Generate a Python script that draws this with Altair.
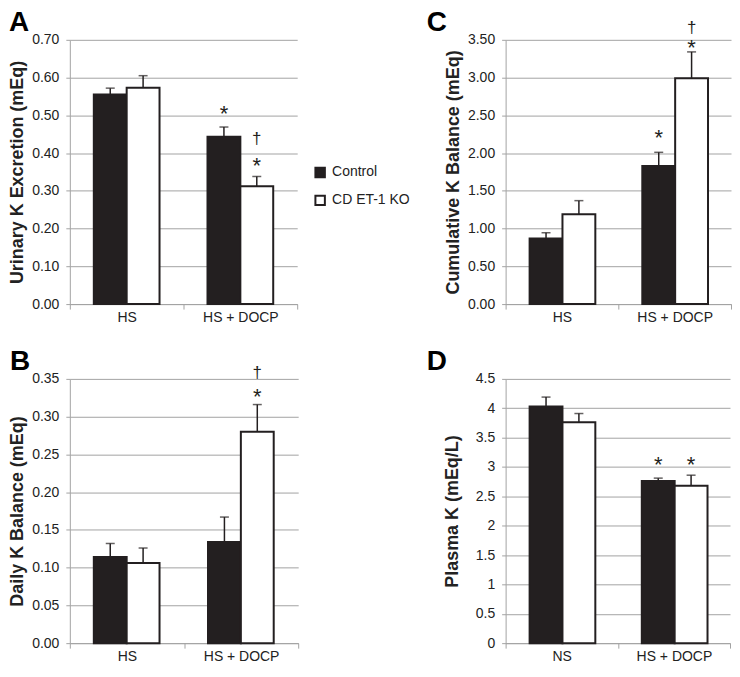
import altair as alt
import pandas as pd

FONT = "Liberation Sans"
INK = "#231f20"
GRID = "#a3a3a3"
TXT = "#222222"

groups = ["Control", "CD ET-1 KO"]

# Panel A: Urinary K excretion
a_cats = ["HS", "HS + DOCP"]
a_ctrl = [0.555, 0.443]
a_ko = [0.573, 0.312]
a_ctrl_err = [0.572, 0.469]
a_ko_err = [0.605, 0.338]
a_ticks = [0.0, 0.1, 0.2, 0.3, 0.4, 0.5, 0.6, 0.7]
a_ann_cat = ["HS + DOCP", "HS + DOCP", "HS + DOCP"]
a_ann_grp = ["Control", "CD ET-1 KO", "CD ET-1 KO"]
a_ann_sym = ["*", "*", "†"]
a_ann_lvl = [0.517, 0.378, 0.436]

# Panel B: Daily K balance
b_cats = ["HS", "HS + DOCP"]
b_ctrl = [0.114, 0.134]
b_ko = [0.106, 0.280]
b_ctrl_err = [0.132, 0.167]
b_ko_err = [0.126, 0.316]
b_ticks = [0.0, 0.05, 0.10, 0.15, 0.20, 0.25, 0.30, 0.35]
b_ann_cat = ["HS + DOCP", "HS + DOCP"]
b_ann_grp = ["CD ET-1 KO", "CD ET-1 KO"]
b_ann_sym = ["*", "†"]
b_ann_lvl = [0.332, 0.358]

# Panel C: Cumulative K balance
c_cats = ["HS", "HS + DOCP"]
c_ctrl = [0.87, 1.83]
c_ko = [1.19, 2.99]
c_ctrl_err = [0.945, 2.01]
c_ko_err = [1.37, 3.34]
c_ticks = [0.0, 0.5, 1.0, 1.5, 2.0, 2.5, 3.0, 3.5]
c_ann_cat = ["HS + DOCP", "HS + DOCP", "HS + DOCP"]
c_ann_grp = ["Control", "CD ET-1 KO", "CD ET-1 KO"]
c_ann_sym = ["*", "*", "†"]
c_ann_lvl = [2.27, 3.46, 3.66]

# Panel D: Plasma K
d_cats = ["NS", "HS + DOCP"]
d_ctrl = [4.03, 2.76]
d_ko = [3.76, 2.68]
d_ctrl_err = [4.19, 2.81]
d_ko_err = [3.91, 2.86]
d_ticks = [0, 0.5, 1, 1.5, 2, 2.5, 3, 3.5, 4, 4.5]
d_ann_cat = ["HS + DOCP", "HS + DOCP"]
d_ann_grp = ["Control", "CD ET-1 KO"]
d_ann_sym = ["*", "*"]
d_ann_lvl = [3.11, 3.11]

PLOT_H = 265


def panel(cats, ctrl, ko, ctrl_err, ko_err, ann_cat, ann_grp, ann_sym, ann_lvl,
          ytitle, ticks, fmt, letter, width, pad_outer, letter_x, title_pad):
    rows = []
    for i, c in enumerate(cats):
        rows.append(dict(cat=c, group=groups[0], mean=ctrl[i], err=ctrl_err[i]))
        rows.append(dict(cat=c, group=groups[1], mean=ko[i], err=ko_err[i]))
    df = pd.DataFrame(rows)
    ann = pd.DataFrame(dict(cat=ann_cat, group=ann_grp, sym=ann_sym, lvl=ann_lvl))

    x = alt.X("cat:N", sort=cats,
              scale=alt.Scale(paddingInner=0, paddingOuter=0),
              axis=alt.Axis(title=None, tickBand="extent", labelAngle=0,
                            labelFont=FONT, labelFontSize=14, labelColor=TXT,
                            labelPadding=1, tickSize=5, tickColor=GRID,
                            domainColor=GRID, grid=False))
    xo = alt.XOffset("group:N", sort=groups,
                     scale=alt.Scale(domain=groups, paddingInner=0, paddingOuter=pad_outer))
    yaxis = alt.Axis(title=ytitle, values=ticks, format=fmt,
                     titleFont=FONT, titleFontSize=18, titleFontWeight="bold",
                     titleColor=TXT, titlePadding=title_pad,
                     labelFont=FONT, labelFontSize=14, labelColor=TXT,
                     labelPadding=7, tickSize=4, tickColor=GRID,
                     domainColor=GRID, grid=True, gridColor=GRID, gridWidth=1)
    yscale = alt.Scale(domain=[0, ticks[-1]], nice=False)

    def ych(field):
        return alt.Y(field, scale=yscale, axis=yaxis)

    fill = alt.Fill("group:N", sort=groups,
                    scale=alt.Scale(domain=groups, range=[INK, "white"]),
                    legend=alt.Legend(title=None, orient="none", legendX=244, legendY=126,
                                      symbolType="square", symbolSize=90,
                                      symbolStrokeColor=INK, symbolStrokeWidth=2,
                                      labelFont=FONT, labelFontSize=14, labelColor=TXT,
                                      rowPadding=10, labelOffset=5))

    base = alt.Chart(df)
    bars = base.mark_bar(stroke=INK, strokeWidth=2).encode(x=x, xOffset=xo, y=ych("mean:Q"), fill=fill)
    stems = base.mark_rule(color=INK, strokeWidth=1.5).encode(
        x=x, xOffset=xo, y=ych("mean:Q"), y2="err:Q")
    caps = base.mark_tick(color=INK, thickness=1.5, size=9).encode(
        x=x, xOffset=xo, y=ych("err:Q"))
    abase = alt.Chart(ann)
    stars = abase.transform_filter(alt.datum.sym == "*").mark_text(
        font=FONT, fontSize=22, color=INK, baseline="middle", dy=5).encode(
        x=x, xOffset=xo, y=ych("lvl:Q"), text="sym:N")
    daggers = abase.transform_filter(alt.datum.sym == "†").mark_text(
        font=FONT, fontSize=17, color=INK, baseline="middle", dy=0).encode(
        x=x, xOffset=xo, y=ych("lvl:Q"), text="sym:N")
    tag = alt.Chart(pd.DataFrame({"t": [letter]})).mark_text(
        font=FONT, fontSize=28, fontWeight="bold", color="black",
        align="left", baseline="top").encode(
        x=alt.value(letter_x), y=alt.value(-31), text="t:N")

    return alt.layer(bars, stems, caps, stars, daggers, tag).properties(width=width, height=PLOT_H)


A = panel(a_cats, a_ctrl, a_ko, a_ctrl_err, a_ko_err, a_ann_cat, a_ann_grp, a_ann_sym, a_ann_lvl,
          "Urinary K Excretion (mEq)", a_ticks, ".2f", "A", 228, 0.73, -61, 5)
B = panel(b_cats, b_ctrl, b_ko, b_ctrl_err, b_ko_err, b_ann_cat, b_ann_grp, b_ann_sym, b_ann_lvl,
          "Daily K Balance (mEq)", b_ticks, ".2f", "B", 229, 0.73, -60, 5)
C = panel(c_cats, c_ctrl, c_ko, c_ctrl_err, c_ko_err, c_ann_cat, c_ann_grp, c_ann_sym, c_ann_lvl,
          "Cumulative K Balance (mEq)", c_ticks, ".2f", "C", 226, 0.71, -79, 5)
D = panel(d_cats, d_ctrl, d_ko, d_ctrl_err, d_ko_err, d_ann_cat, d_ann_grp, d_ann_sym, d_ann_lvl,
          "Plasma K (mEq/L)", d_ticks, "~g", "D", 225, 0.78, -79, 14)

chart = alt.concat(A, C, B, D, columns=2, spacing={"row": 75, "column": 208},
                   bounds="flush").properties(padding=0).configure_view(stroke=None)

chart.save("out.html", embed_options={"renderer": "svg", "actions": False})
